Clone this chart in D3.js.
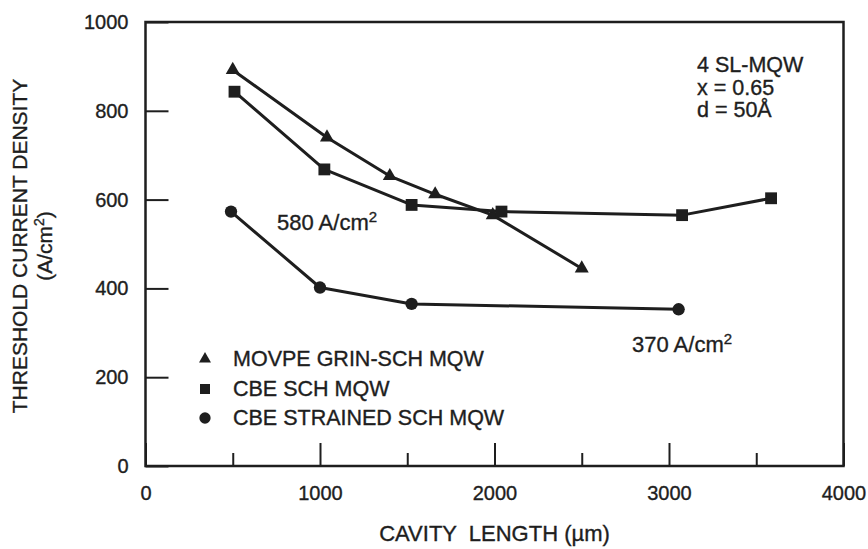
<!DOCTYPE html>
<html>
<head>
<meta charset="utf-8">
<script src="https://cdn.jsdelivr.net/npm/d3@7"></script>
<style>
  html, body { margin: 0; padding: 0; background: #fff; }
  svg { display: block; }
  text { font-family: "Liberation Sans", Arial, Helvetica, sans-serif; fill: #1e1e1e; stroke: #1e1e1e; stroke-width: 0.35px; }
</style>
</head>
<body>
<svg id="chart" width="868" height="549"></svg>
<script>
// Threshold current density vs. cavity length for three MQW laser structures
const movpeLength = [500, 1040, 1400, 1660, 1990, 2500];
const movpeJth    = [892, 740, 653, 612, 565, 445];

const cbeLength = [510, 1025, 1525, 2040, 3075, 3585];
const cbeJth    = [843, 668, 588, 573, 565, 603];

const strainedLength = [490, 1000, 1525, 3055];
const strainedJth    = [573, 402, 365, 353];

const xMajorTicks = [0, 1000, 2000, 3000, 4000];
const xMinorTicks = [500, 1500, 2500, 3500];
const yTicks = [0, 200, 400, 600, 800, 1000];

const seriesNames = ["MOVPE GRIN-SCH MQW", "CBE SCH MQW", "CBE STRAINED SCH MQW"];
const conditions = ["4 SL-MQW", "x = 0.65", "d = 50Å"];

const ink = "#1e1e1e";
const svg = d3.select("#chart");

const x = d3.scaleLinear().domain([0, 4000]).range([145.5, 843.5]);
const y = d3.scaleLinear().domain([0, 1000]).range([466, 22]);

// x axis: labelled major ticks and short minor ticks, both pointing inward
const xAxis = svg.append("g")
  .attr("transform", `translate(0,${y(0)})`)
  .call(d3.axisBottom(x).tickValues(xMajorTicks).tickFormat(d3.format("d"))
    .tickSizeInner(-23).tickSizeOuter(0).tickPadding(20));
xAxis.select(".domain").remove();
xAxis.selectAll(".tick line").attr("stroke", ink).attr("stroke-width", 2);
xAxis.selectAll(".tick text").attr("font-size", 20).attr("fill", ink);

const xMinor = svg.append("g")
  .attr("transform", `translate(0,${y(0)})`)
  .call(d3.axisBottom(x).tickValues(xMinorTicks).tickFormat("")
    .tickSizeInner(-13).tickSizeOuter(0));
xMinor.select(".domain").remove();
xMinor.selectAll(".tick line").attr("stroke", ink).attr("stroke-width", 2);

// y axis
const yAxis = svg.append("g")
  .attr("transform", `translate(${x(0)},0)`)
  .call(d3.axisLeft(y).tickValues(yTicks).tickFormat(d3.format("d"))
    .tickSizeInner(-23).tickSizeOuter(0).tickPadding(17));
yAxis.select(".domain").remove();
yAxis.selectAll(".tick line").attr("stroke", ink).attr("stroke-width", 2);
yAxis.selectAll(".tick text").attr("font-size", 20).attr("fill", ink);

// plot frame
svg.append("rect")
  .attr("x", x(0)).attr("y", y(1000))
  .attr("width", x(4000) - x(0)).attr("height", y(0) - y(1000))
  .attr("fill", "none").attr("stroke", ink).attr("stroke-width", 2.5);

// series
const series = [
  { xs: movpeLength, ys: movpeJth, symbol: d3.symbolTriangle, size: 85, legendSize: 62 },
  { xs: cbeLength, ys: cbeJth, symbol: d3.symbolSquare, size: 140, legendSize: 100 },
  { xs: strainedLength, ys: strainedJth, symbol: d3.symbolCircle, size: 120, legendSize: 100 }
];

const line = d3.line().x(d => x(d[0])).y(d => y(d[1]));

series.forEach(s => {
  const pts = s.xs.map((v, i) => [v, s.ys[i]]);
  svg.append("path")
    .attr("d", line(pts))
    .attr("fill", "none")
    .attr("stroke", ink)
    .attr("stroke-width", 3)
    .attr("stroke-linejoin", "round");
  svg.selectAll(null).data(pts).enter().append("path")
    .attr("transform", d => `translate(${x(d[0])},${y(d[1])})`)
    .attr("d", d3.symbol().type(s.symbol).size(s.size))
    .attr("fill", ink);
});

// legend
const legendY = [359, 389, 418];
series.forEach((s, i) => {
  svg.append("path")
    .attr("transform", `translate(205,${legendY[i]})`)
    .attr("d", d3.symbol().type(s.symbol).size(s.legendSize))
    .attr("fill", ink);
  svg.append("text")
    .attr("x", 233).attr("y", legendY[i] + 7)
    .attr("font-size", 21.5)
    .text(seriesNames[i]);
});

// conditions block
const condY = [72, 95, 117];
conditions.forEach((t, i) => {
  svg.append("text")
    .attr("x", 697).attr("y", condY[i])
    .attr("font-size", 21.5)
    .text(t);
});

// level annotations with superscript unit
function unitLabel(px, py, value) {
  const t = svg.append("text").attr("x", px).attr("y", py).attr("font-size", 22);
  t.append("tspan").text(`${value} A/cm`);
  t.append("tspan").attr("font-size", 15).attr("dy", -8).text("2");
}
unitLabel(277, 230, 580);
unitLabel(632, 352, 370);

// axis titles
svg.append("text")
  .attr("x", (x(0) + x(4000)) / 2).attr("y", 541)
  .attr("text-anchor", "middle")
  .attr("font-size", 22)
  .attr("xml:space", "preserve")
  .text("CAVITY  LENGTH (µm)");

const yTitle = svg.append("g").attr("transform", "translate(27,246) rotate(-90)");
yTitle.append("text")
  .attr("text-anchor", "middle")
  .attr("font-size", 21)
  .text("THRESHOLD CURRENT DENSITY");
const yUnit = yTitle.append("text")
  .attr("y", 25)
  .attr("text-anchor", "middle")
  .attr("font-size", 21);
yUnit.append("tspan").text("(A/cm");
yUnit.append("tspan").attr("font-size", 14).attr("dy", -8).text("2");
yUnit.append("tspan").attr("dy", 8).text(")");
</script>
</body>
</html>
